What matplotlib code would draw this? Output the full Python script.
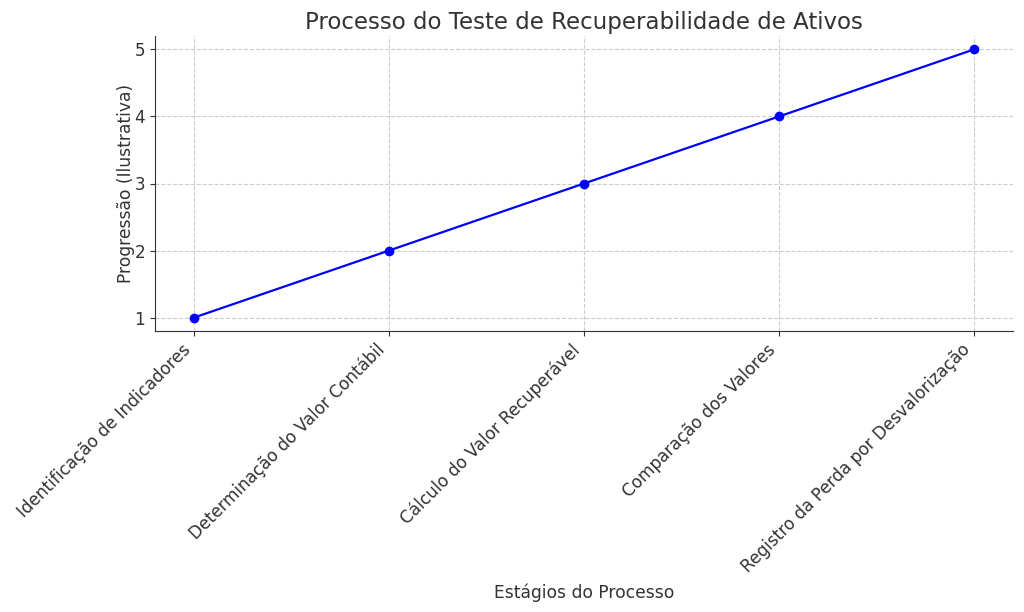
import matplotlib
matplotlib.use("Agg")
import matplotlib.pyplot as plt

stages = ["Identificação de Indicadores", "Determinação do Valor Contábil",
          "Cálculo do Valor Recuperável", "Comparação dos Valores",
          "Registro da Perda por Desvalorização"]
progress = [1, 2, 3, 4, 5]

plt.rcParams['font.family'] = ['DejaVu Sans']
fig = plt.figure(figsize=(10.24, 6.12), dpi=100)
ax = fig.add_axes([155/1024, 1-331/612, (1013-155)/1024, (331-36)/612])
ax.plot(stages, progress, marker='o', color='blue', linewidth=1.6, markersize=6)
ax.set_title("Processo do Teste de Recuperabilidade de Ativos", fontsize=16.5, color='#333333', pad=5)
ax.set_xlabel("Estágios do Processo", fontsize=12.3, color='#333333', labelpad=5)
ax.set_ylabel("Progressão (Ilustrativa)", fontsize=12.3, color='#333333', labelpad=0)
ax.grid(True, linestyle='--', color='#cccccc', linewidth=0.8)
ax.set_axisbelow(True)
for s in ['top', 'right']:
    ax.spines[s].set_visible(False)
ax.spines['left'].set_color('#333333')
ax.spines['bottom'].set_color('#333333')
ax.tick_params(colors='#333333', labelsize=12.2)
plt.setp(ax.get_xticklabels(), rotation=45, ha='right')
ax.set_yticks([1, 2, 3, 4, 5])
fig.savefig("out.png", dpi=100)
